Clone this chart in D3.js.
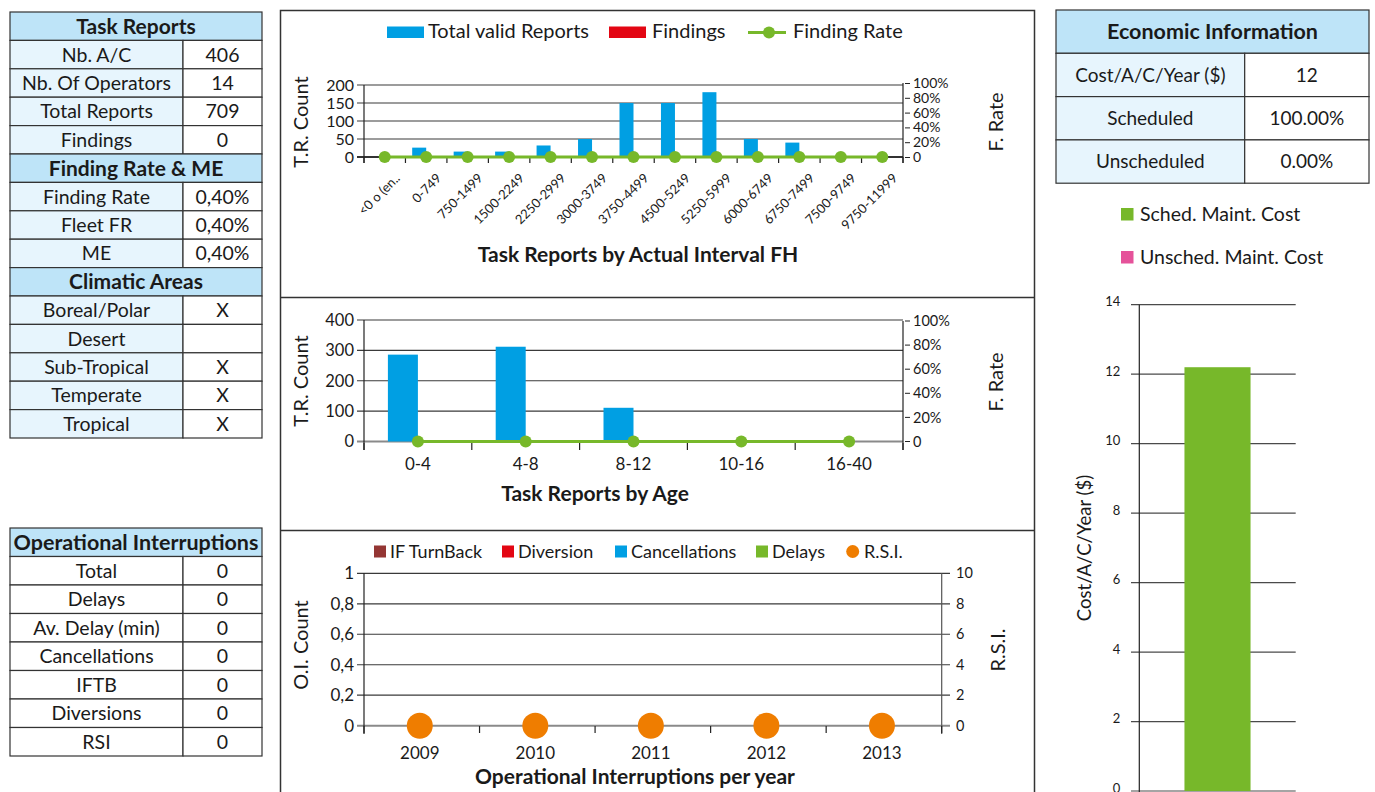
<!DOCTYPE html>
<html>
<head>
<meta charset="utf-8">
<script src="https://cdn.jsdelivr.net/npm/d3@7"></script>
<style>
body { margin: 0; background: #fff; }
text { font-family: Lato, "Open Sans", sans-serif; fill: #1a1a1a; }
</style>
</head>
<body>
<svg id="page" width="1375" height="792"></svg>
<script>
// ---- table data
var taskRows = [["Nb. A/C", "406"], ["Nb. Of Operators", "14"], ["Total Reports", "709"], ["Findings", "0"]];
var findingRows = [["Finding Rate", "0,40%"], ["Fleet FR", "0,40%"], ["ME", "0,40%"]];
var climaticRows = [["Boreal/Polar", "X"], ["Desert", ""], ["Sub-Tropical", "X"], ["Temperate", "X"], ["Tropical", "X"]];
var interruptionRows = [["Total", "0"], ["Delays", "0"], ["Av. Delay (min)", "0"], ["Cancellations", "0"], ["IFTB", "0"], ["Diversions", "0"], ["RSI", "0"]];
var economicRows = [["Cost/A/C/Year ($)", "12"], ["Scheduled", "100.00%"], ["Unscheduled", "0.00%"]];

// ---- chart data
var intervalCats = ["<0 o (en..", "0-749", "750-1499", "1500-2249", "2250-2999", "3000-3749", "3750-4499",
  "4500-5249", "5250-5999", "6000-6749", "6750-7499", "7500-9749", "9750-11999"];
var intervalReports = [0, 26, 15, 15, 32, 50, 150, 150, 180, 50, 40, 0, 0];
var intervalFindings = [0, 0, 0, 0, 0, 0, 0, 0, 0, 0, 0, 0, 0];
var intervalRate = [0, 0, 0, 0, 0, 0, 0, 0, 0, 0, 0, 0, 0];

var ageCats = ["0-4", "4-8", "8-12", "10-16", "16-40"];
var ageReports = [286, 312, 111, 0, 0];
var ageFindings = [0, 0, 0, 0, 0];
var ageRate = [0, 0, 0, 0, 0];

var years = ["2009", "2010", "2011", "2012", "2013"];
var ifTurnBack = [0, 0, 0, 0, 0];
var diversions = [0, 0, 0, 0, 0];
var cancellations = [0, 0, 0, 0, 0];
var delays = [0, 0, 0, 0, 0];
var rsi = [0, 0, 0, 0, 0];

var costCats = ["Cost"];
var schedCost = [12.2];
var unschedCost = [0];

var blue = "#009fe3", red = "#e30613", green = "#77b82a", orange = "#ef7d00",
  brown = "#943634", pink = "#e5529a", headBlue = "#bee4f8", cellBlue = "#e7f5fd";
var gridCol = "#3a3a3a", baseCol = "#8a8a8a";

var svg = d3.select("#page");
svg.append("rect").attr("width", 1375).attr("height", 792).attr("fill", "#fff");

// ---------- tables
function drawTable(x, y, labelW, valueW, rowH, blocks, fs, hfs) {
  var g = svg.append("g");
  var cy = y;
  blocks.forEach(function(b) {
    var hh = b.headH || rowH;
    g.append("rect").attr("x", x).attr("y", cy).attr("width", labelW + valueW).attr("height", hh)
      .attr("fill", headBlue).attr("stroke", "#333").attr("stroke-width", 1.2);
    g.append("text").attr("x", x + (labelW + valueW) / 2).attr("y", cy + hh / 2).attr("dy", "0.36em")
      .attr("text-anchor", "middle").attr("font-weight", "bold").attr("font-size", hfs).text(b.title);
    cy += hh;
    b.rows.forEach(function(r) {
      g.append("rect").attr("x", x).attr("y", cy).attr("width", labelW).attr("height", rowH)
        .attr("fill", b.labelFill).attr("stroke", "#333").attr("stroke-width", 1.2);
      g.append("rect").attr("x", x + labelW).attr("y", cy).attr("width", valueW).attr("height", rowH)
        .attr("fill", "#fff").attr("stroke", "#333").attr("stroke-width", 1.2);
      g.append("text").attr("x", x + labelW / 2).attr("y", cy + rowH / 2).attr("dy", "0.36em")
        .attr("text-anchor", "middle").attr("font-size", fs).text(r[0]);
      g.append("text").attr("x", x + labelW + valueW / 2).attr("y", cy + rowH / 2).attr("dy", "0.36em")
        .attr("text-anchor", "middle").attr("font-size", fs).text(r[1]);
      cy += rowH;
    });
  });
}

drawTable(10, 12, 173, 79, 28.4, [
  {title: "Task Reports", rows: taskRows, labelFill: cellBlue},
  {title: "Finding Rate & ME", rows: findingRows, labelFill: cellBlue},
  {title: "Climatic Areas", rows: climaticRows, labelFill: cellBlue}
], 19.5, 21);

drawTable(10, 528, 173, 79, 28.5, [
  {title: "Operational Interruptions", rows: interruptionRows, labelFill: "#fff"}
], 19.5, 21.5);

drawTable(1056, 10, 188.7, 124.3, 43.3, [
  {title: "Economic Information", rows: economicRows, labelFill: cellBlue}
], 19, 21.5);

// ---------- centre panels
svg.append("path").attr("d", "M280.5,800V10.5H1034.5V800M280.5,297.5H1034.5M280.5,530.5H1034.5")
  .attr("fill", "none").attr("stroke", "#333").attr("stroke-width", 1.5);

function rotLabel(x, y, txt, fs) {
  svg.append("text").attr("transform", "translate(" + x + "," + y + ") rotate(-90)")
    .attr("text-anchor", "middle").attr("dy", "0.35em").attr("font-size", fs).text(txt);
}

function grid(ys, ticks, x0, x1, zeroCol) {
  svg.append("g").selectAll("line").data(ticks).join("line")
    .attr("x1", x0).attr("x2", x1)
    .attr("y1", function(d) { return ys(d); }).attr("y2", function(d) { return ys(d); })
    .attr("stroke", function(d) { return d === 0 ? zeroCol : gridCol; })
    .attr("stroke-width", function(d) { return d === 0 ? 2 : 1.2; });
}

function bandTicks(xs, y0, len) {
  var edges = xs.domain().map(function(c) { return xs(c); }).concat([xs.range()[1]]);
  svg.append("g").selectAll("line").data(edges).join("line")
    .attr("x1", function(d) { return d; }).attr("x2", function(d) { return d; })
    .attr("y1", y0).attr("y2", y0 + len).attr("stroke", "#222").attr("stroke-width", 1.2);
}

function styleAxis(g, fs) {
  g.select(".domain").remove();
  g.selectAll("text").attr("font-size", fs).attr("fill", "#1a1a1a").attr("font-family", "Lato, sans-serif");
  g.selectAll(".tick line").attr("stroke", "#222");
}

function pctFmt(d) { return d === 0 ? "0" : Math.round(d * 100) + "%"; }

// ---------- chart 1: by actual interval FH
var x1 = d3.scaleBand().domain(intervalCats).range([364, 903]);
var y1 = d3.scaleLinear().domain([0, 200]).range([157, 85]);
var yR1 = d3.scaleLinear().domain([0, 1]).range([157, 83]);
var g1 = d3.scaleBand().domain(["total", "findings"]).range([0, 28]);

grid(y1, [50, 100, 150, 200, 0], 357, 903, "#333");
svg.append("line").attr("x1", 364).attr("x2", 364).attr("y1", y1(200)).attr("y2", 163).attr("stroke", "#222").attr("stroke-width", 1.2);
svg.append("line").attr("x1", 903).attr("x2", 903).attr("y1", yR1(1)).attr("y2", 163).attr("stroke", "#222").attr("stroke-width", 1.2);
bandTicks(x1, 157, 6);
styleAxis(svg.append("g").attr("transform", "translate(364,0)")
  .call(d3.axisLeft(y1).tickValues([0, 50, 100, 150, 200]).tickSize(0).tickPadding(10)), 16);
styleAxis(svg.append("g").attr("transform", "translate(903,0)")
  .call(d3.axisRight(yR1).tickValues([0, .2, .4, .6, .8, 1]).tickFormat(pctFmt).tickSize(0).tickPadding(10)), 14);
svg.append("g").selectAll("line").data([0, .2, .4, .6, .8, 1]).join("line")
  .attr("x1", 905).attr("x2", 910).attr("y1", function(d) { return yR1(d) + 0.5; }).attr("y2", function(d) { return yR1(d) + 0.5; })
  .attr("stroke", "#222");

svg.append("g").selectAll("rect").data(intervalCats).join("rect")
  .attr("x", function(c) { return x1(c) + x1.bandwidth() / 2 - 14 + g1("total"); })
  .attr("width", g1.bandwidth())
  .attr("y", function(c, i) { return y1(intervalReports[i]); })
  .attr("height", function(c, i) { return y1(0) - y1(intervalReports[i]); })
  .attr("fill", blue);
svg.append("g").selectAll("rect").data(intervalCats).join("rect")
  .attr("x", function(c) { return x1(c) + x1.bandwidth() / 2 - 14 + g1("findings"); })
  .attr("width", g1.bandwidth())
  .attr("y", function(c, i) { return y1(intervalFindings[i]); })
  .attr("height", function(c, i) { return y1(0) - y1(intervalFindings[i]); })
  .attr("fill", red);

var line1 = d3.line().x(function(d, i) { return x1(intervalCats[i]) + x1.bandwidth() / 2; }).y(function(d) { return yR1(d); });
svg.append("path").attr("d", line1(intervalRate)).attr("fill", "none").attr("stroke", green).attr("stroke-width", 3);
svg.append("g").selectAll("circle").data(intervalRate).join("circle")
  .attr("cx", function(d, i) { return x1(intervalCats[i]) + x1.bandwidth() / 2; })
  .attr("cy", function(d) { return yR1(d); }).attr("r", 6).attr("fill", green);

svg.append("g").selectAll("text").data(intervalCats).join("text")
  .attr("transform", function(c) { return "translate(" + (x1(c) + x1.bandwidth() / 2 + 16) + ",179) rotate(-45)"; })
  .attr("text-anchor", "end").attr("font-size", 13).text(function(c) { return c; });

rotLabel(301, 122, "T.R. Count", 20);
rotLabel(996, 122, "F. Rate", 20);
svg.append("text").attr("x", 638).attr("y", 262).attr("text-anchor", "middle")
  .attr("font-weight", "bold").attr("font-size", 21).text("Task Reports by Actual Interval FH");

// legend 1
svg.append("rect").attr("x", 387).attr("y", 26.5).attr("width", 37).attr("height", 11.5).attr("fill", blue);
svg.append("text").attr("x", 428).attr("y", 38).attr("font-size", 20).text("Total valid Reports");
svg.append("rect").attr("x", 609).attr("y", 26.5).attr("width", 37).attr("height", 11.5).attr("fill", red);
svg.append("text").attr("x", 652).attr("y", 38).attr("font-size", 20).text("Findings");
svg.append("line").attr("x1", 748).attr("x2", 786).attr("y1", 32.5).attr("y2", 32.5).attr("stroke", green).attr("stroke-width", 3);
svg.append("circle").attr("cx", 769).attr("cy", 32.5).attr("r", 6).attr("fill", green);
svg.append("text").attr("x", 793).attr("y", 38).attr("font-size", 20).text("Finding Rate");

// ---------- chart 2: by age
var x2 = d3.scaleBand().domain(ageCats).range([364, 903]);
var y2 = d3.scaleLinear().domain([0, 400]).range([441.5, 320]);
var yR2 = d3.scaleLinear().domain([0, 1]).range([441.5, 321]);
var g2 = d3.scaleBand().domain(["total", "findings"]).range([0, 60]);

grid(y2, [100, 200, 300, 400, 0], 357, 903, baseCol);
svg.append("line").attr("x1", 364).attr("x2", 364).attr("y1", y2(400)).attr("y2", 450).attr("stroke", "#222").attr("stroke-width", 1.2);
svg.append("line").attr("x1", 903).attr("x2", 903).attr("y1", yR2(1)).attr("y2", 450).attr("stroke", "#222").attr("stroke-width", 1.2);
bandTicks(x2, 443, 7);
styleAxis(svg.append("g").attr("transform", "translate(364,0)")
  .call(d3.axisLeft(y2).tickValues([0, 100, 200, 300, 400]).tickSize(0).tickPadding(10)), 16.5);
styleAxis(svg.append("g").attr("transform", "translate(903,0)")
  .call(d3.axisRight(yR2).tickValues([0, .2, .4, .6, .8, 1]).tickFormat(pctFmt).tickSize(0).tickPadding(10)), 14.5);
svg.append("g").selectAll("line").data([0, .2, .4, .6, .8, 1]).join("line")
  .attr("x1", 905).attr("x2", 910).attr("y1", function(d) { return yR2(d); }).attr("y2", function(d) { return yR2(d); })
  .attr("stroke", "#222");

svg.append("g").selectAll("rect").data(ageCats).join("rect")
  .attr("x", function(c) { return x2(c) + x2.bandwidth() / 2 - 30 + g2("total"); })
  .attr("width", g2.bandwidth())
  .attr("y", function(c, i) { return y2(ageReports[i]); })
  .attr("height", function(c, i) { return y2(0) - y2(ageReports[i]); })
  .attr("fill", blue);
svg.append("g").selectAll("rect").data(ageCats).join("rect")
  .attr("x", function(c) { return x2(c) + x2.bandwidth() / 2 - 30 + g2("findings"); })
  .attr("width", g2.bandwidth())
  .attr("y", function(c, i) { return y2(ageFindings[i]); })
  .attr("height", function(c, i) { return y2(0) - y2(ageFindings[i]); })
  .attr("fill", red);

var line2 = d3.line().x(function(d, i) { return x2(ageCats[i]) + x2.bandwidth() / 2; }).y(function(d) { return yR2(d); });
svg.append("path").attr("d", line2(ageRate)).attr("fill", "none").attr("stroke", green).attr("stroke-width", 3);
svg.append("g").selectAll("circle").data(ageRate).join("circle")
  .attr("cx", function(d, i) { return x2(ageCats[i]) + x2.bandwidth() / 2; })
  .attr("cy", function(d) { return yR2(d); }).attr("r", 6).attr("fill", green);

styleAxis(svg.append("g").attr("transform", "translate(0,443)")
  .call(d3.axisBottom(x2).tickSize(0).tickPadding(15)), 17);

rotLabel(301, 381, "T.R. Count", 20);
rotLabel(996, 382, "F. Rate", 20);
svg.append("text").attr("x", 595).attr("y", 501).attr("text-anchor", "middle")
  .attr("font-weight", "bold").attr("font-size", 21).text("Task Reports by Age");

// ---------- chart 3: operational interruptions
var x3 = d3.scaleBand().domain(years).range([364, 941.7]);
var y3 = d3.scaleLinear().domain([0, 1]).range([725.7, 573.3]);
var yR3 = d3.scaleLinear().domain([0, 10]).range([725.7, 573.3]);

grid(y3, [.2, .4, .6, .8, 1, 0], 357, 950, baseCol);
svg.append("line").attr("x1", 364).attr("x2", 364).attr("y1", y3(1)).attr("y2", 734).attr("stroke", "#222").attr("stroke-width", 1.2);
svg.append("line").attr("x1", 941.7).attr("x2", 941.7).attr("y1", y3(1)).attr("y2", 734).attr("stroke", "#555").attr("stroke-width", 1.2);
bandTicks(x3, 726, 7);
styleAxis(svg.append("g").attr("transform", "translate(364,0)")
  .call(d3.axisLeft(y3).tickValues([0, .2, .4, .6, .8, 1]).tickSize(0).tickPadding(10)
    .tickFormat(function(d) { return (d === 0 || d === 1) ? String(d) : d.toFixed(1).replace(".", ","); })), 17);
styleAxis(svg.append("g").attr("transform", "translate(950,0)")
  .call(d3.axisRight(yR3).tickValues([0, 2, 4, 6, 8, 10]).tickSize(0).tickPadding(6)), 14.5);

var stackKeys = ["ifTurnBack", "diversions", "cancellations", "delays"];
var stackCols = [brown, red, blue, green];
var stackRows = years.map(function(y, i) {
  return {year: y, ifTurnBack: ifTurnBack[i], diversions: diversions[i], cancellations: cancellations[i], delays: delays[i]};
});
var stacked = d3.stack().keys(stackKeys)(stackRows);
svg.append("g").selectAll("g").data(stacked).join("g").attr("fill", function(d, i) { return stackCols[i]; })
  .selectAll("rect").data(function(d) { return d; }).join("rect")
  .attr("x", function(d) { return x3(d.data.year) + x3.bandwidth() * 0.3; })
  .attr("width", x3.bandwidth() * 0.4)
  .attr("y", function(d) { return y3(d[1]); })
  .attr("height", function(d) { return y3(d[0]) - y3(d[1]); });

svg.append("g").selectAll("circle").data(rsi).join("circle")
  .attr("cx", function(d, i) { return x3(years[i]) + x3.bandwidth() / 2 - 2; })
  .attr("cy", function(d) { return yR3(d); }).attr("r", 13).attr("fill", orange);

styleAxis(svg.append("g").attr("transform", "translate(-2,726)")
  .call(d3.axisBottom(x3).tickSize(0).tickPadding(21)), 17);

rotLabel(301, 645, "O.I. Count", 20);
rotLabel(998, 650, "R.S.I.", 20);
svg.append("text").attr("x", 635).attr("y", 784).attr("text-anchor", "middle")
  .attr("font-weight", "bold").attr("font-size", 21).text("Operational Interruptions per year");

// legend 3
var leg3 = [
  {label: "IF TurnBack", col: brown, x: 374},
  {label: "Diversion", col: red, x: 502},
  {label: "Cancellations", col: blue, x: 615},
  {label: "Delays", col: green, x: 756}
];
leg3.forEach(function(l) {
  svg.append("rect").attr("x", l.x).attr("y", 545.5).attr("width", 12).attr("height", 12).attr("fill", l.col);
  svg.append("text").attr("x", l.x + 16).attr("y", 557.5).attr("font-size", 18).text(l.label);
});
svg.append("circle").attr("cx", 852.7).attr("cy", 551.5).attr("r", 6.5).attr("fill", orange);
svg.append("text").attr("x", 864).attr("y", 557.5).attr("font-size", 18).text("R.S.I.");

// ---------- cost chart
var xC = d3.scaleBand().domain(costCats).range([1139.3, 1295.7]).padding(0.406);
var yC = d3.scaleLinear().domain([0, 14]).range([791, 304.7]);

svg.append("g").selectAll("line").data([0, 2, 4, 6, 8, 10, 12, 14]).join("line")
  .attr("x1", 1131).attr("x2", 1295.7)
  .attr("y1", function(d) { return yC(d); }).attr("y2", function(d) { return yC(d); })
  .attr("stroke", "#4a4a4a").attr("stroke-width", 1.2);
svg.append("line").attr("x1", 1139.3).attr("x2", 1139.3).attr("y1", yC(14)).attr("y2", 792).attr("stroke", "#222").attr("stroke-width", 1.2);
styleAxis(svg.append("g").attr("transform", "translate(1139.3,-3)")
  .call(d3.axisLeft(yC).tickValues([0, 2, 4, 6, 8, 10, 12, 14]).tickSize(0).tickPadding(19)), 13);

svg.append("g").selectAll("rect").data(costCats).join("rect")
  .attr("x", function(c) { return xC(c); }).attr("width", xC.bandwidth())
  .attr("y", function(c, i) { return yC(schedCost[i]); })
  .attr("height", function(c, i) { return yC(0) - yC(schedCost[i]); })
  .attr("fill", green);
svg.append("g").selectAll("rect").data(costCats).join("rect")
  .attr("x", function(c) { return xC(c); }).attr("width", xC.bandwidth())
  .attr("y", function(c, i) { return yC(schedCost[i] + unschedCost[i]); })
  .attr("height", function(c, i) { return yC(schedCost[i]) - yC(schedCost[i] + unschedCost[i]); })
  .attr("fill", pink);

rotLabel(1085, 548, "Cost/A/C/Year ($)", 18.5);

svg.append("rect").attr("x", 1121).attr("y", 208).attr("width", 12.5).attr("height", 12.5).attr("fill", green);
svg.append("text").attr("x", 1140).attr("y", 221).attr("font-size", 19.5).text("Sched. Maint. Cost");
svg.append("rect").attr("x", 1121).attr("y", 251).attr("width", 12.5).attr("height", 12.5).attr("fill", pink);
svg.append("text").attr("x", 1140).attr("y", 264).attr("font-size", 19.5).text("Unsched. Maint. Cost");
</script>
</body>
</html>
